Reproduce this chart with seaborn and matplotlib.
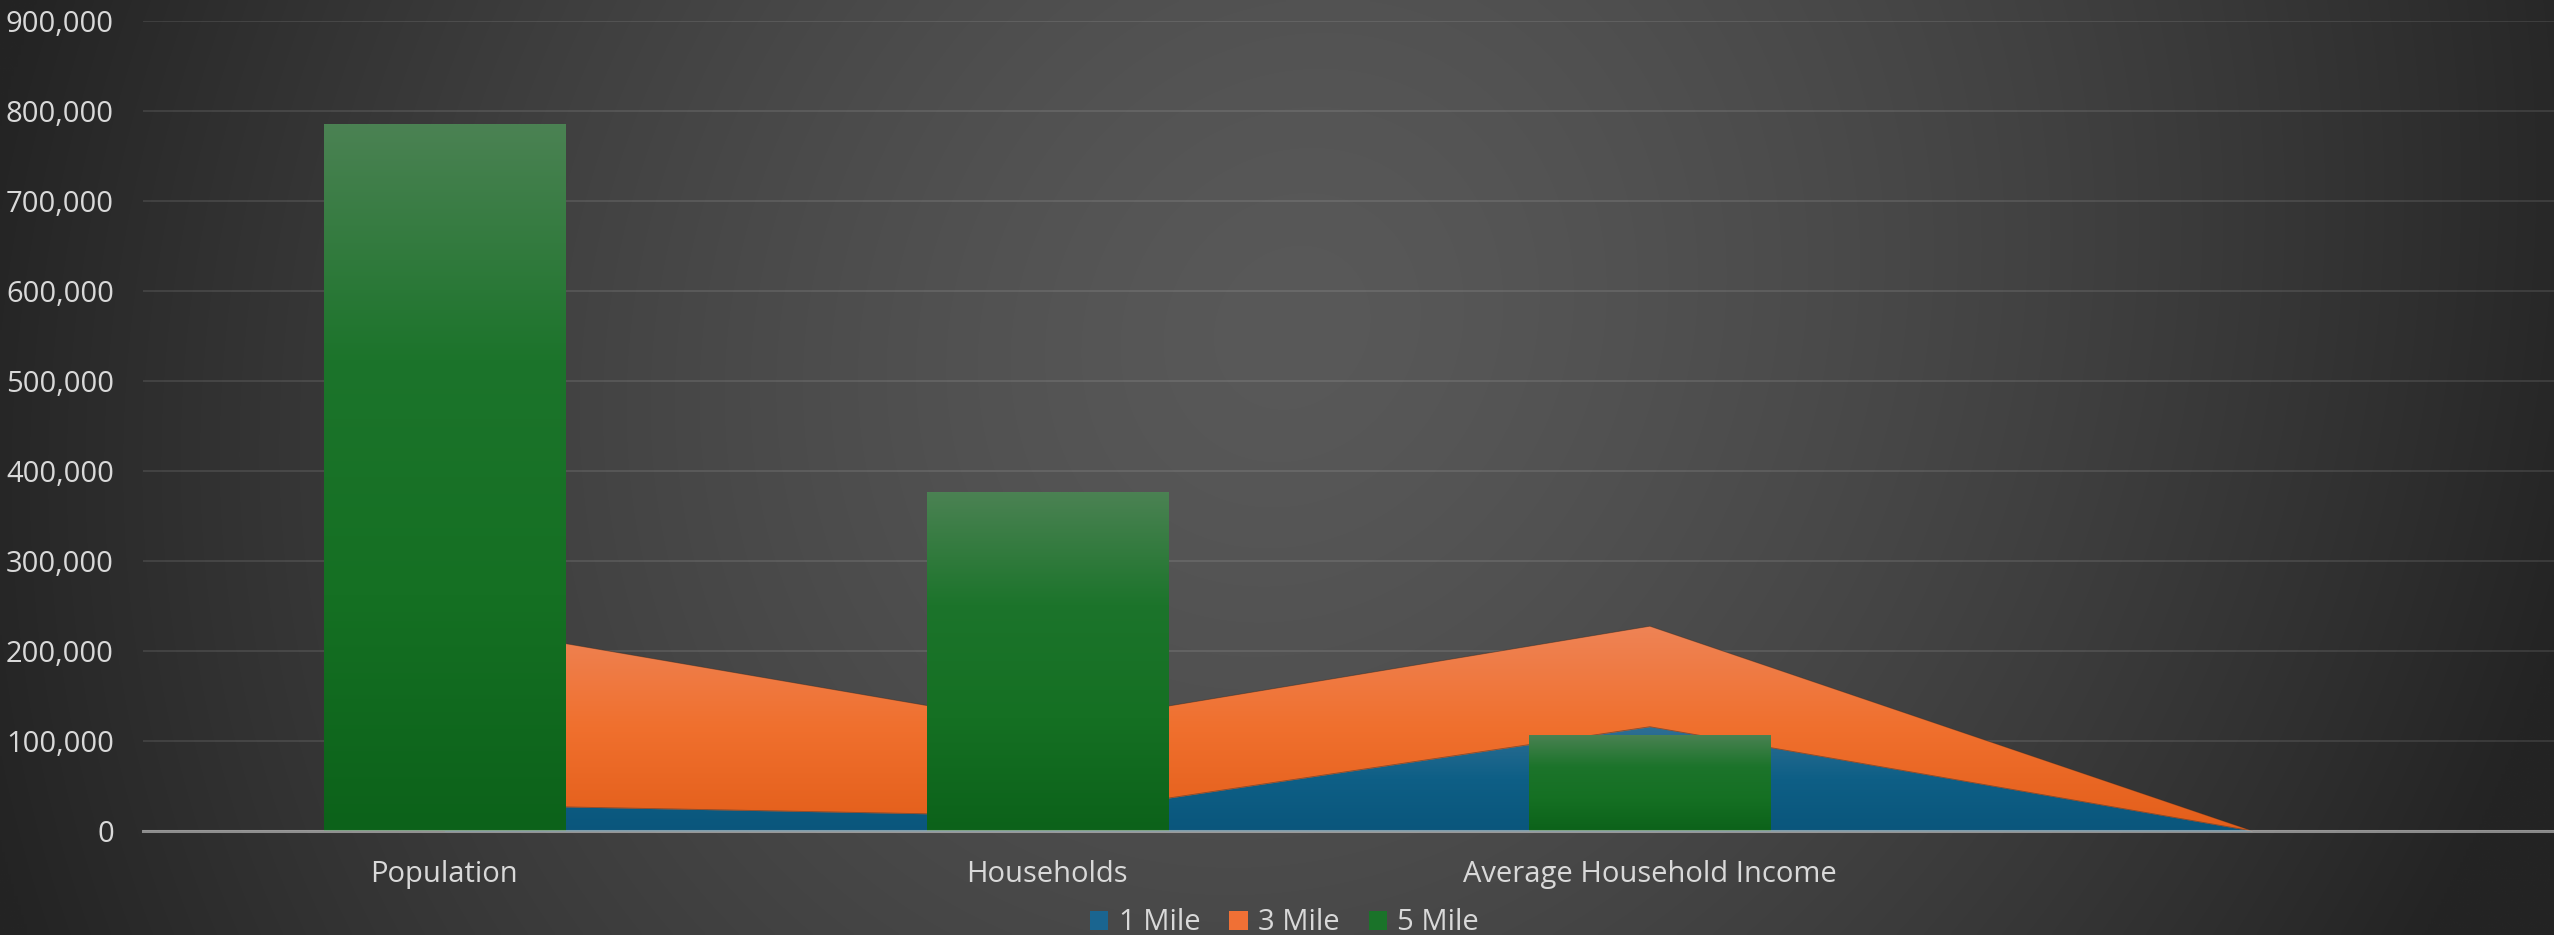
import numpy as np
import pandas as pd
import matplotlib
matplotlib.use("Agg")
import matplotlib.pyplot as plt
import seaborn as sns
from matplotlib.patches import Patch
from matplotlib.colors import LinearSegmentedColormap
from matplotlib.ticker import FuncFormatter
import matplotlib.patheffects as pe

# ---------------- data ----------------
categories = ["Population", "Households", "Average Household Income", ""]
series_names = ["1 Mile", "3 Mile", "5 Mile"]
one_mile = [29300, 16600, 115800, 0]
three_mile = [201800, 99800, 111600, 0]
five_mile = [785000, 376000, 107000, 0]
y_ticks = list(range(0, 900001, 100000))

# ---------------- style ----------------
sns.set_theme(style="dark")
plt.rcParams['font.family'] = ['Open Sans', 'DejaVu Sans']
TEXT = '#d9d9d9'
FS = 21

blue_stops = ['#0A567C', '#0E5F86', '#2F6F94']
orange_stops = ['#E35E1A', '#F0702E', '#EE8457']
green_stops = ['#0C621A', '#157023', '#1C742B', '#4B8253']
legend_cols = ['#1A6590', '#F07035', '#1A7329']

fig = plt.figure(figsize=(25.54, 9.35), dpi=100)

# background gradient
bg = fig.add_axes([0, 0, 1, 1], zorder=-10)
W, H = 800, 300
xx = np.linspace(0, 1, W)
yy = np.linspace(0, 1, H)
X, Y = np.meshgrid(xx, yy)
d = np.sqrt(((X - 0.5 + 0.04 * (Y - 0.5)) / 0.52) ** 2 + ((Y - 0.35) / 1.5) ** 2)
d = np.clip(d, 0, 1)
v = 0x59 / 255 - (0x59 - 0x24) / 255 * d ** 1.4
bg.imshow(np.dstack([v, v, v]), extent=[0, 1, 0, 1], aspect='auto', origin='upper',
          interpolation='bilinear')
bg.axis('off')

ax = fig.add_axes([143 / 2554, 1 - 831 / 935, 1 - 143 / 2554, (831 - 20.5) / 935])
ax.set_facecolor('none')


def grad_fill(ax, clip_path, clip_tr, x0, x1, y0, y1, stops, zorder):
    cmap = LinearSegmentedColormap.from_list('g', stops)
    arr = np.linspace(1, 0, 256).reshape(-1, 1)
    im = ax.imshow(arr, cmap=cmap, vmin=0, vmax=1, extent=[x0, x1, y0, y1],
                   aspect='auto', origin='upper', zorder=zorder, interpolation='bilinear')
    if clip_tr is None:
        im.set_clip_path(clip_path)
    else:
        im.set_clip_path(clip_path, clip_tr)
    return im


# bars (5 Mile)
df = pd.DataFrame({"category": categories, "value": five_mile})
sns.barplot(data=df, x="category", y="value", order=categories, width=0.4,
            color=green_stops[1], saturation=1, ax=ax, zorder=3, linewidth=0,
            errorbar=None)
bars = list(ax.patches)

# stacked areas (1 Mile, 3 Mile)
x = np.arange(len(categories))
b = np.array(one_mile, dtype=float)
t = b + np.array(three_mile, dtype=float)
blue_poly = ax.fill_between(x, 0, b, color=blue_stops[1], lw=0, zorder=1)
orange_poly = ax.fill_between(x, b, t, color=orange_stops[1], lw=0, zorder=1.2)
ax.plot(x, t, color='#3a2a20', lw=0.6, alpha=0.5, zorder=1.3)
ax.plot(x, b, color='#1c2a35', lw=0.6, alpha=0.5, zorder=1.3)

grad_fill(ax, blue_poly.get_paths()[0], ax.transData, -0.5, 3.5, 0, b.max(),
          blue_stops, 1.1)
grad_fill(ax, orange_poly.get_paths()[0], ax.transData, -0.5, 3.5, 0, t.max(),
          orange_stops, 1.25)

for bar in bars:
    h = bar.get_height()
    if h and h > 0:
        bar.set_path_effects([pe.SimplePatchShadow(offset=(0, 0), shadow_rgbFace='black',
                                                   alpha=0.35), pe.Normal()])
        bx = bar.get_x()
        grad_fill(ax, bar, None, bx, bx + bar.get_width(), 0, h, green_stops, 3.1)

ax.set_xlim(-0.5, 3.5)
ax.set_ylim(0, 900000)
ax.set_yticks(y_ticks)
ax.yaxis.set_major_formatter(FuncFormatter(lambda v, p: f"{int(v):,}"))
ax.set_xlabel('')
ax.set_ylabel('')
ax.tick_params(axis='y', length=0, pad=21, labelsize=FS, labelcolor=TEXT)
ax.tick_params(axis='x', length=0, pad=21, labelsize=FS, labelcolor=TEXT)

ax.set_axisbelow(True)
ax.yaxis.grid(True, color='white', alpha=0.1, lw=1.4)
ax.xaxis.grid(False)
for s in ['left', 'right', 'top']:
    ax.spines[s].set_visible(False)
ax.spines['bottom'].set_color('#cfcfcf')
ax.spines['bottom'].set_alpha(0.6)
ax.spines['bottom'].set_linewidth(2.2)
ax.spines['bottom'].set_zorder(5)

handles = [Patch(facecolor=c, edgecolor='none', label=n) for c, n in zip(legend_cols, series_names)]
fig.legend(handles=handles, loc='center', bbox_to_anchor=(0.503, 0.013), ncol=3,
           frameon=False, fontsize=FS, labelcolor=TEXT, handlelength=0.62,
           handleheight=0.62, handletextpad=0.36, columnspacing=1.0)

fig.savefig('out.png', dpi=100)
